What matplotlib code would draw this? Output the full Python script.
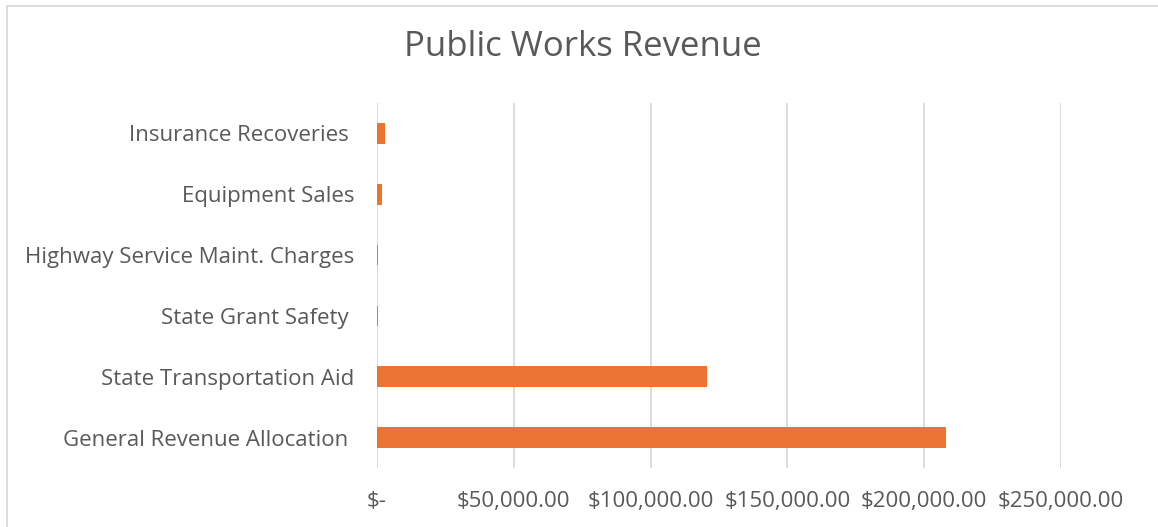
import matplotlib
matplotlib.use("Agg")
import matplotlib.pyplot as plt
from matplotlib.ticker import FuncFormatter
from matplotlib.patches import Rectangle

# data (bottom to top, as drawn)
categories = [
    "General Revenue Allocation ",
    "State Transportation Aid",
    "State Grant Safety ",
    "Highway Service Maint. Charges",
    "Equipment Sales",
    "Insurance Recoveries ",
]
revenue = [207800, 120500, 300, 300, 1900, 2900]
x_ticks = [0, 50000, 100000, 150000, 200000, 250000]

BAR = "#EC7432"
TEXT = "#595959"
GRID = "#D9D9D9"

plt.rcParams['font.family'] = ['Open Sans', 'DejaVu Sans']

fig = plt.figure(figsize=(11.58, 5.27), dpi=100)
ax = fig.add_axes([377 / 1158, 1 - 468 / 527, (1061 - 377) / 1158, (468 - 103) / 527])

ax.barh(range(len(categories)), revenue, height=0.34, color=BAR, linewidth=0, zorder=3)

ax.set_xlim(0, 250000)
ax.set_ylim(-0.5, len(categories) - 0.5)
ax.set_xticks(x_ticks)


def money(v, pos):
    if v == 0:
        return "$-"
    return f"${v:,.2f}"


ax.xaxis.set_major_formatter(FuncFormatter(money))
ax.set_yticks(range(len(categories)))
ax.set_yticklabels(categories)
ax.tick_params(axis='both', length=0, colors=TEXT, labelsize=16)
ax.tick_params(axis='x', pad=16.5)
ax.tick_params(axis='y', pad=16.5)
ax.grid(axis='x', color=GRID, linewidth=1.3, zorder=0)
for s in ax.spines.values():
    s.set_visible(False)

fig.suptitle("Public Works Revenue", x=(405 + 760) / 2 / 1158, y=1 - 47 / 527,
             va='center', fontsize=25, color=TEXT)

# chart frame
fig.patches.append(Rectangle((6.5 / 1158, -0.1), 1.2, 1 - 6 / 527 + 0.1,
                             transform=fig.transFigure, fill=False,
                             edgecolor=GRID, linewidth=1.3))

fig.savefig("out.png", dpi=100)
